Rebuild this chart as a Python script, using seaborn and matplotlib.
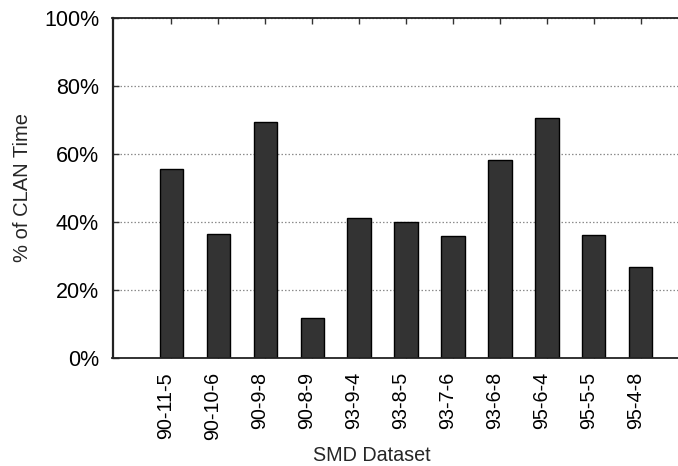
import matplotlib
matplotlib.use("Agg")
import matplotlib.pyplot as plt
import seaborn as sns
import pandas as pd
from matplotlib.ticker import FuncFormatter

# SMD datasets and the share of CLAN time for each
datasets = ["90-11-5", "90-10-6", "90-9-8", "90-8-9", "93-9-4", "93-8-5",
            "93-7-6", "93-6-8", "95-6-4", "95-5-5", "95-4-8"]
clan_pct = [55.5, 36.4, 69.3, 11.9, 41.1, 40.0, 35.8, 58.2, 70.5, 36.2, 26.7]

y_ticks = [0, 20, 40, 60, 80, 100]

sns.set_theme(style="white")
plt.rcParams["font.family"] = ["Liberation Sans", "DejaVu Sans"]
plt.rcParams["font.size"] = 14

df = pd.DataFrame({"dataset": datasets, "pct": clan_pct})

W, H, DPI = 678, 466, 100
fig = plt.figure(figsize=(W / DPI, H / DPI), dpi=DPI)

# axes box in pixels; the right edge runs past the canvas
left_px, top_px, bottom_px = 112.5, 18.0, 358.0
unit_px = 46.92
x_lo, x_hi = -1.257, 11.0
width_px = (x_hi - x_lo) * unit_px
ax = fig.add_axes([left_px / W, 1 - bottom_px / H, width_px / W, (bottom_px - top_px) / H])

sns.barplot(data=df, x="dataset", y="pct", order=datasets, color="#333333",
            saturation=1, width=0.5, edgecolor="black", linewidth=1.0, ax=ax)

ax.set_xlim(x_lo, x_hi)
ax.set_ylim(0, 100)
ax.set_yticks(y_ticks)
ax.yaxis.set_major_formatter(FuncFormatter(lambda v, p: f"{v:.0f}%"))

ax.set_axisbelow(True)
ax.yaxis.grid(True, color="#8c8c8c", linestyle=(0, (1.2, 1.6)), linewidth=0.9)
ax.xaxis.grid(False)

for side, sp in ax.spines.items():
    sp.set_visible(True)
    sp.set_color("#222222")
    sp.set_linewidth(1.3)
ax.spines["left"].set_linewidth(1.6)

ax.tick_params(axis="both", direction="in", length=4.5, width=1.0, color="#333333",
               top=True, right=True, bottom=True, left=True, labelcolor="black")
ax.tick_params(axis="y", pad=9.7, labelsize=15.5)
ax.tick_params(axis="x", pad=10.0, labelsize=14.2)

plt.setp(ax.get_xticklabels(), rotation=90, ha="right", va="baseline",
         rotation_mode="anchor")

ax.set_xlabel("")
ax.set_ylabel("")
fig.text(372 / W, 5.3 / H, "SMD Dataset", ha="center", va="baseline", fontsize=14.2)
fig.text(22.5 / W, 1 - 188 / H, "% of CLAN Time", ha="center", va="center",
         rotation=90, fontsize=14.5)

fig.savefig("out.png", dpi=DPI)
